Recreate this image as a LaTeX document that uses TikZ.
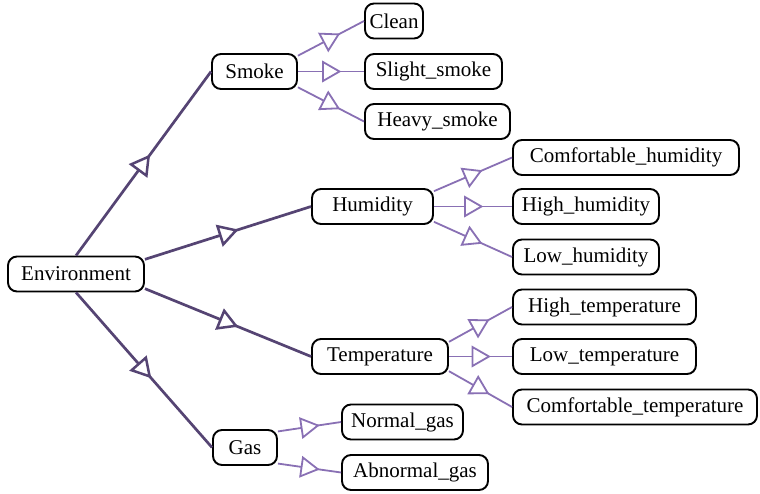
\documentclass[tikz,border=0pt]{standalone}
\usepackage{fontspec}
\setmainfont{Liberation Serif}
\usetikzlibrary{decorations.markings}
\definecolor{darkedge}{RGB}{85,68,115}
\definecolor{lightedge}{RGB}{137,112,180}
\begin{document}
\begin{tikzpicture}[x=1pt,y=-1pt,
  box/.style={draw=black, line width=1.9pt, rounded corners=9pt, inner sep=0pt,
    minimum height=35pt, font=\fontsize{21}{24}\selectfont},
  mid/.style 2 args={postaction={decorate}, decoration={markings,
    mark=at position 0.5 with {\draw[draw=#1, line width=#2, fill=white, line join=miter]
      (8.5pt,0pt) -- (-8pt,9.5pt) -- (-8pt,-9.5pt) -- cycle;}}},
  major/.style={draw=darkedge, line width=2.7pt, mid={darkedge}{2.5pt}},
  minor/.style={draw=lightedge, line width=1.8pt, mid={lightedge}{1.8pt}},
]
\useasboundingbox (0,0) rectangle (760,493);

\node[box, minimum width=136pt] (env) at (76,274) {Environment};
\node[box, minimum width=85pt] (smoke) at (254.5,71.5) {Smoke};
\node[box, minimum width=58pt] (clean) at (394,21) {Clean};
\node[box, minimum width=137pt] (slight) at (433.5,71.5) {Slight\_smoke};
\node[box, minimum width=145pt] (heavy) at (437.5,121.5) {Heavy\_smoke};
\node[box, minimum width=121pt] (hum) at (372.5,206.5) {Humidity};
\node[box, minimum width=226pt] (comfh) at (626,157.5) {Comfortable\_humidity};
\node[box, minimum width=146pt] (highh) at (586,206.5) {High\_humidity};
\node[box, minimum width=146pt] (lowh) at (586,257) {Low\_humidity};
\node[box, minimum width=136pt] (temp) at (380,356.5) {Temperature};
\node[box, minimum width=183pt] (hight) at (604.5,307) {High\_temperature};
\node[box, minimum width=183pt] (lowt) at (604.5,356.5) {Low\_temperature};
\node[box, minimum width=244pt] (comft) at (635,407) {Comfortable\_temperature};
\node[box, minimum width=64pt] (gas) at (245,447.5) {Gas};
\node[box, minimum width=121pt] (normal) at (402.5,422) {Normal\_gas};
\node[box, minimum width=146pt] (abnormal) at (415,472.5) {Abnormal\_gas};

\draw[major] (env.north) -- (smoke.west);
\draw[major] (env.12) -- (hum.west);
\draw[major] (env.-12) -- (temp.west);
\draw[major] (env.south) -- (gas.west);

\draw[minor] (smoke.20) -- (clean.west);
\draw[minor] (smoke.east) -- (slight.west);
\draw[minor] (smoke.-20) -- (heavy.west);

\draw[minor] (hum.14) -- (comfh.west);
\draw[minor] (hum.east) -- (highh.west);
\draw[minor] (hum.-14) -- (lowh.west);

\draw[minor] (temp.12) -- (hight.west);
\draw[minor] (temp.east) -- (lowt.west);
\draw[minor] (temp.-12) -- (comft.west);

\draw[minor] (gas.26) -- (normal.west);
\draw[minor] (gas.-26) -- (abnormal.west);
\end{tikzpicture}
\end{document}
